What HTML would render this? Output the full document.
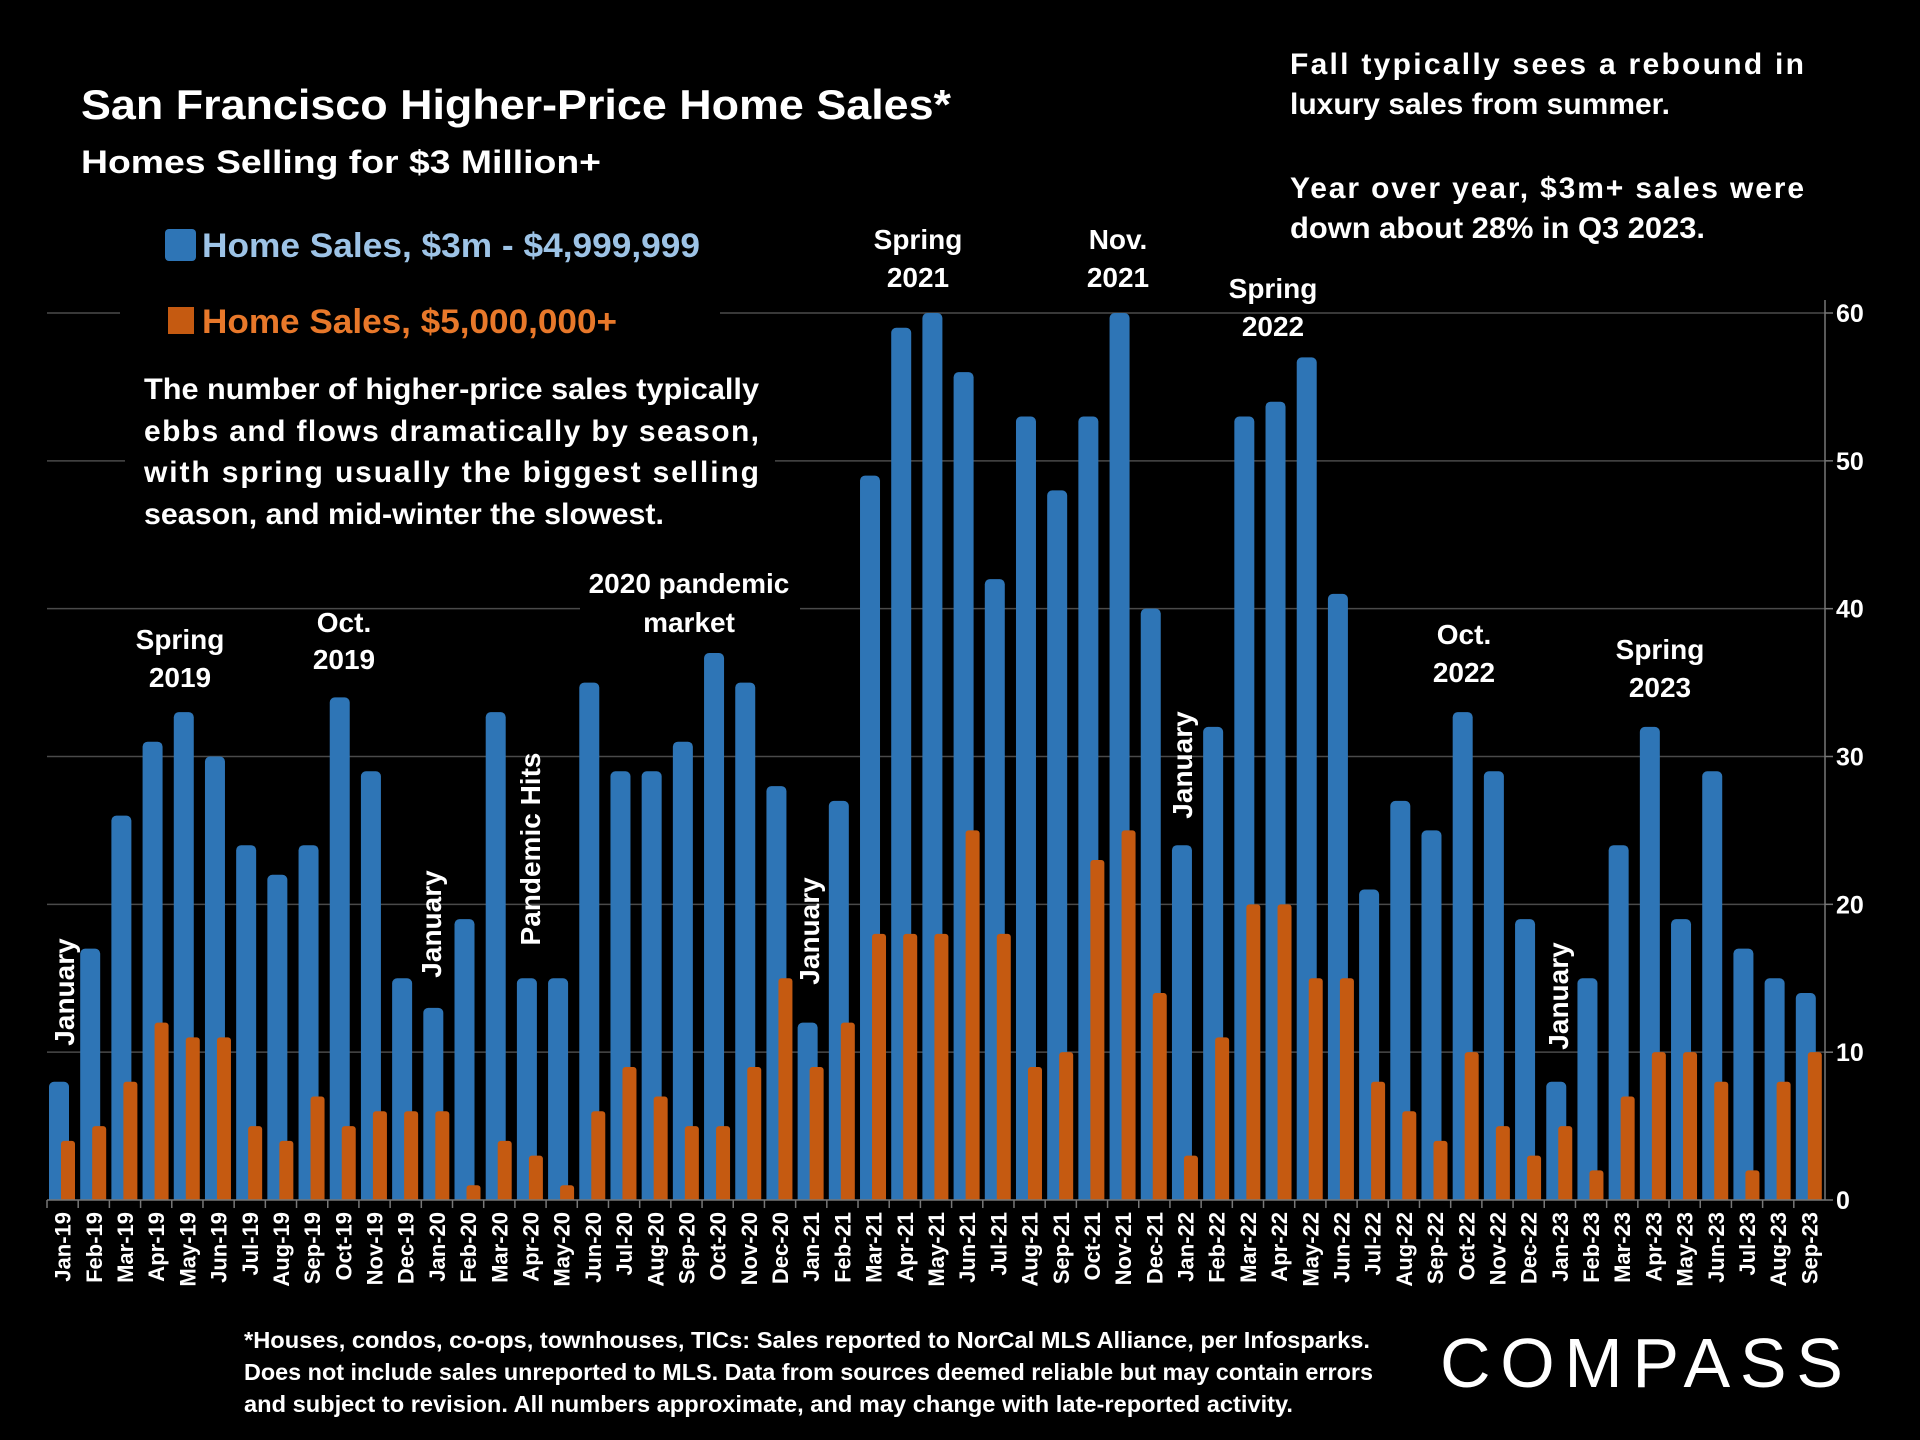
<!DOCTYPE html>
<html><head><meta charset="utf-8">
<style>
html,body{margin:0;padding:0;background:#000;}
svg{display:block;}
text{font-family:"Liberation Sans",sans-serif;font-weight:bold;fill:#fff;}
</style></head>
<body>
<svg id="chart" width="1920" height="1440" viewBox="0 0 1920 1440" xmlns="http://www.w3.org/2000/svg">
<rect x="0" y="0" width="1920" height="1440" fill="#000"/>
<g id="grid"></g>
<g id="bars"></g>
<g id="axes"></g>

<text x="81" y="119" font-size="42" textLength="870" lengthAdjust="spacingAndGlyphs">San Francisco Higher-Price Home Sales*</text>
<text x="81" y="173" font-size="32" textLength="520" lengthAdjust="spacingAndGlyphs">Homes Selling for $3 Million+</text>

<rect x="120" y="215" width="600" height="135" fill="#000"/>
<rect x="165" y="229" width="31" height="32" rx="4" fill="#2e75b6"/>
<text x="202" y="257" font-size="34" fill="#9dc3e6" style="fill:#9dc3e6" textLength="498" lengthAdjust="spacingAndGlyphs">Home Sales, $3m - $4,999,999</text>
<rect x="168" y="307" width="26" height="27" fill="#c55a11"/>
<text x="202" y="333" font-size="34" style="fill:#e8782a" textLength="415" lengthAdjust="spacingAndGlyphs">Home Sales, $5,000,000+</text>

<g>
<rect x="125" y="360" width="650" height="180" fill="#000"/>
<text x="144" y="399" font-size="30" textLength="615" lengthAdjust="spacingAndGlyphs">The number of higher-price sales typically</text>
<text x="144" y="441" font-size="30" textLength="615" lengthAdjust="spacing">ebbs and flows dramatically by season,</text>
<text x="144" y="482" font-size="30" textLength="615" lengthAdjust="spacing">with spring usually the biggest selling</text>
<text x="144" y="524" font-size="30" textLength="520" lengthAdjust="spacingAndGlyphs">season, and mid-winter the slowest.</text>
</g>

<g>
<text x="1290" y="74" font-size="30" textLength="514" lengthAdjust="spacing">Fall typically sees a rebound in</text>
<text x="1290" y="114" font-size="30" textLength="380" lengthAdjust="spacingAndGlyphs">luxury sales from summer.</text>
<text x="1290" y="198" font-size="30" textLength="514" lengthAdjust="spacing">Year over year, $3m+ sales were</text>
<text x="1290" y="238" font-size="30" textLength="415" lengthAdjust="spacingAndGlyphs">down about 28% in Q3 2023.</text>
</g>

<g id="annotations" font-size="28" text-anchor="middle">
<g><text x="180" y="649">Spring</text><text x="180" y="687">2019</text></g>
<g><text x="344" y="632">Oct.</text><text x="344" y="669">2019</text></g>
<g><rect x="580" y="565" width="220" height="75" fill="#000"/><text x="689" y="593">2020 pandemic</text><text x="689" y="632">market</text></g>
<g><text x="918" y="249">Spring</text><text x="918" y="287">2021</text></g>
<g><text x="1118" y="249">Nov.</text><text x="1118" y="287">2021</text></g>
<g><text x="1273" y="298">Spring</text><text x="1273" y="336">2022</text></g>
<g><text x="1464" y="644">Oct.</text><text x="1464" y="682">2022</text></g>
<g><text x="1660" y="659">Spring</text><text x="1660" y="697">2023</text></g>
<text transform="translate(74,992) rotate(-90)">January</text>
<text transform="translate(441,924) rotate(-90)">January</text>
<text transform="translate(540,849) rotate(-90)">Pandemic Hits</text>
<text transform="translate(819,931) rotate(-90)">January</text>
<text transform="translate(1192,765) rotate(-90)">January</text>
<text transform="translate(1568,996) rotate(-90)">January</text>
</g>

<g font-size="23">
<text x="244" y="1348" textLength="1126" lengthAdjust="spacingAndGlyphs">*Houses, condos, co-ops, townhouses, TICs:  Sales reported to NorCal MLS Alliance, per Infosparks.</text>
<text x="244" y="1380" textLength="1129" lengthAdjust="spacingAndGlyphs">Does not include sales unreported to MLS. Data from sources deemed reliable but may contain errors</text>
<text x="244" y="1412" textLength="1049" lengthAdjust="spacingAndGlyphs">and subject to revision.  All numbers approximate, and may change with late-reported activity.</text>
</g>
<text x="1440" y="1387" font-size="70" style="font-weight:normal" textLength="403" lengthAdjust="spacing">COMPASS</text>
</svg>
<script>
const months = ["Jan-19","Feb-19","Mar-19","Apr-19","May-19","Jun-19","Jul-19","Aug-19","Sep-19","Oct-19","Nov-19","Dec-19","Jan-20","Feb-20","Mar-20","Apr-20","May-20","Jun-20","Jul-20","Aug-20","Sep-20","Oct-20","Nov-20","Dec-20","Jan-21","Feb-21","Mar-21","Apr-21","May-21","Jun-21","Jul-21","Aug-21","Sep-21","Oct-21","Nov-21","Dec-21","Jan-22","Feb-22","Mar-22","Apr-22","May-22","Jun-22","Jul-22","Aug-22","Sep-22","Oct-22","Nov-22","Dec-22","Jan-23","Feb-23","Mar-23","Apr-23","May-23","Jun-23","Jul-23","Aug-23","Sep-23"];
const sales3to5m = [8,17,26,31,33,30,24,22,24,34,29,15,13,19,33,15,15,35,29,29,31,37,35,28,12,27,49,59,60,56,42,53,48,53,60,40,24,32,53,54,57,41,21,27,25,33,29,19,8,15,24,32,19,29,17,15,14];
const sales5mPlus = [4,5,8,12,11,11,5,4,7,5,6,6,6,1,4,3,1,6,9,7,5,5,9,15,9,12,18,18,18,25,18,9,10,23,25,14,3,11,20,20,15,15,8,6,4,10,5,3,5,2,7,10,10,8,2,8,10];
const yTicks = [0,10,20,30,40,50,60];

const NS = "http://www.w3.org/2000/svg";
const X0 = 47, X1 = 1825, Y0 = 1200, Y60 = 313;
const step = (X1 - X0) / months.length;
function xAt(i){ return X0 + i * step; }
function yAt(v){ return Y0 - (v / 60) * (Y0 - Y60); }
function mk(tag, attrs, parent){ const e = document.createElementNS(NS, tag); for (const k in attrs) e.setAttribute(k, attrs[k]); parent.appendChild(e); return e; }

const grid = document.getElementById('grid');
const bars = document.getElementById('bars');
const axes = document.getElementById('axes');

yTicks.forEach(t => {
  if (t > 0) {
    const l = mk('line', {x1: X0, x2: X1, y1: yAt(t), y2: yAt(t), stroke: '#4a4a4a', 'stroke-width': 1.5}, grid);
    
    
  }
  const tk = mk('line', {x1: X1, x2: X1 + 8, y1: yAt(t), y2: yAt(t), stroke: '#777', 'stroke-width': 1.5}, axes);
  
  
  const lb = mk('text', {x: 1836, y: yAt(t) + 9, 'font-size': 25}, axes);
  lb.textContent = t;
  
  
});

months.forEach((m, i) => {
  const x = xAt(i);
  const hb = Y0 - yAt(sales3to5m[i]);
  const b = mk('rect', {x: x + 2, y: yAt(sales3to5m[i]), width: 20, height: hb + 5, rx: 5, fill: '#2e75b6'}, bars);
  
  
  const ho = Y0 - yAt(sales5mPlus[i]);
  const o = mk('rect', {x: x + 14, y: yAt(sales5mPlus[i]), width: 14, height: ho + 4, rx: 3, fill: '#c55a11'}, bars);
  
  
  const tk = mk('line', {x1: x, x2: x, y1: Y0, y2: Y0 + 8, stroke: '#777', 'stroke-width': 1.5}, axes);
  
  
  const lb = mk('text', {transform: 'translate(' + (x + step/2 + 8) + ',' + (Y0 + 12) + ') rotate(-90)', 'font-size': 22, 'text-anchor': 'end'}, axes);
  lb.textContent = m;
  
  
});
const cover = mk('rect', {x: 0, y: Y0, width: 1920, height: 10, fill: '#000'}, bars);


const xa = mk('line', {x1: X0, x2: X1, y1: Y0, y2: Y0, stroke: '#777', 'stroke-width': 1.5}, axes);


const ya = mk('line', {x1: X1, x2: X1, y1: 300, y2: Y0, stroke: '#777', 'stroke-width': 1.5}, axes);


</script>
</body></html>
